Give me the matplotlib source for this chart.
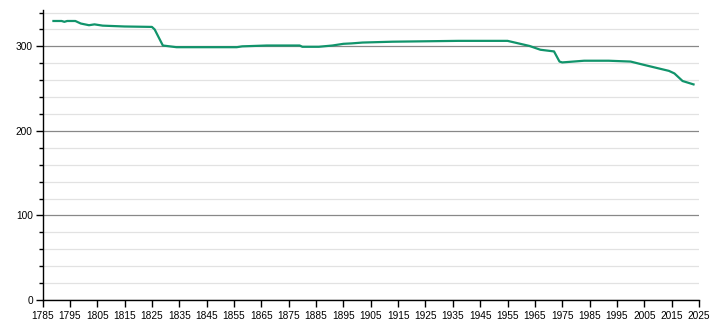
import numpy as np
import matplotlib.pyplot as plt
from matplotlib.ticker import MultipleLocator

## values (year, value)
years = [1789, 1792, 1793, 1794, 1797, 1799, 1802, 1804, 1807, 1815, 1825, 1826,
         1829, 1834, 1856, 1858, 1867, 1879, 1880, 1886, 1891, 1895, 1898, 1902,
         1913, 1937, 1955, 1963, 1967, 1972, 1974, 1975, 1983, 1992, 2000, 2005,
         2014, 2016, 2019, 2023]
values = [330, 330, 329, 330, 330, 327, 325, 326, 324.5, 323.5, 323, 320,
          301, 299, 299, 300, 301, 301, 299.5, 299.5, 301, 303, 303.5, 304.5,
          305.5, 306.5, 306.5, 300.5, 296, 294, 282, 281, 283, 283, 282, 278,
          271, 268, 259, 255]

xticks = np.arange(1785, 2026, 10)

plt.rcParams['font.family'] = ['Liberation Sans', 'DejaVu Sans']

fig = plt.figure(figsize=(7.1, 3.2), dpi=100)
ax = fig.add_axes([42.5/710, 1-300/320, (699-42.5)/710, (300-10)/320])

ax.plot(years, values, color='#11946b', lw=1.6, zorder=3)

ax.set_xlim(1785, 2025)
ax.set_ylim(0, 343)
ax.set_xticks(xticks)
ax.yaxis.set_major_locator(MultipleLocator(100))
ax.yaxis.set_minor_locator(MultipleLocator(20))
ax.grid(axis='y', which='major', color='#888888', lw=0.9, zorder=1)
ax.grid(axis='y', which='minor', color='#e2e2e2', lw=0.9, zorder=0)

for s in ['top', 'right']:
    ax.spines[s].set_visible(False)
for s in ['left', 'bottom']:
    ax.spines[s].set_linewidth(1.0)
    ax.spines[s].set_color('black')

ax.tick_params(axis='both', which='major', labelsize=7.3, length=5, width=1, pad=2, colors='black')
ax.tick_params(axis='y', which='minor', length=3, width=1)
ax.tick_params(axis='x', pad=3)

fig.savefig('out.png', dpi=100)
